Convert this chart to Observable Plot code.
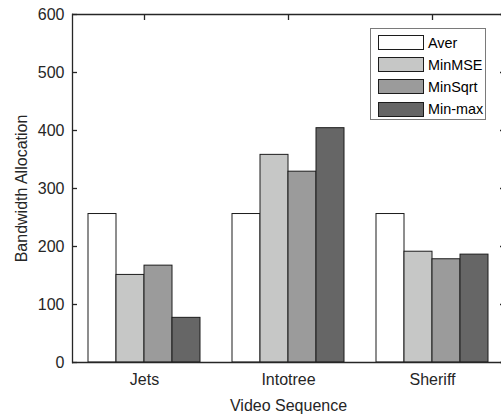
<!DOCTYPE html>
<html><head><meta charset="utf-8">
<script src="https://cdn.jsdelivr.net/npm/d3@7"></script>
<script src="https://cdn.jsdelivr.net/npm/@observablehq/plot@0.6"></script>
<style>
html,body{margin:0;padding:0;background:#fff;overflow:hidden;}
#wrap{position:relative;width:501px;height:417px;overflow:hidden;}
#wrap svg{overflow:visible;}
#legend{position:absolute;left:370px;top:28px;width:116px;height:92px;border:1px solid #7a7a7a;background:#fff;box-sizing:border-box;font-family:"Liberation Sans",Arial,Helvetica,sans-serif;font-size:14.4px;color:#000;}
.row{position:absolute;left:7px;height:15px;display:flex;align-items:center;white-space:nowrap;}
.sw{width:46px;height:15px;box-sizing:border-box;border:1px solid #1c1c1c;margin-right:4px;flex:none;}
</style></head><body><div id="wrap"></div>
<script>
const videos = ["Jets", "Intotree", "Sheriff"];
const methods = ["Aver", "MinMSE", "MinSqrt", "Min-max"];
const aver = [256, 256, 256];
const minMSE = [151, 358, 191];
const minSqrt = [167, 329, 178];
const minMax = [77, 404, 186];
const colors = ["#ffffff", "#c6c7c6", "#9b9b9b", "#666666"];
const yTicks = [0, 100, 200, 300, 400, 500, 600];

const series = [aver, minMSE, minSqrt, minMax];
const data = videos.flatMap((v, i) => methods.map((m, j) => ({video: v, method: m, value: series[j][i]})));

const ink = "#262626";
const chart = Plot.plot({
  width: 501, height: 417,
  marginLeft: 72, marginRight: -3, marginTop: 14, marginBottom: 55,
  style: {fontSize: "16px", fontFamily: "'Liberation Sans', Arial, Helvetica, sans-serif", color: ink, background: "white", overflow: "visible"},
  fx: {domain: videos, paddingInner: 0, paddingOuter: 0},
  x: {domain: methods, paddingInner: 0, paddingOuter: 0.5, axis: null},
  y: {domain: [0, 600]},
  color: {domain: methods, range: colors},
  marks: [
    Plot.barY(data, {fx: "video", x: "method", y: "value", fill: "method", stroke: "#1c1c1c", strokeWidth: 1}),
    Plot.ruleY([0, 600], {stroke: ink, strokeWidth: 1.3}),
    Plot.frame({anchor: "left", facetAnchor: "left", stroke: ink, strokeWidth: 1.3}),
    Plot.axisY(yTicks, {anchor: "left", tickSize: 0, tickPadding: 8, label: "Bandwidth Allocation", labelAnchor: "center", labelOffset: 57, labelArrow: "none"}),
    Plot.axisY(yTicks, {anchor: "left", tickSize: 5, dx: 5, tickFormat: () => "", label: null, stroke: ink, strokeWidth: 1.3}),
    Plot.axisY(yTicks, {anchor: "right", tickSize: 5, dx: -5, tickFormat: () => "", label: null, stroke: ink, strokeWidth: 1.3}),
    Plot.axisFx({anchor: "bottom", tickSize: 0, tickPadding: 11, label: "Video Sequence", labelAnchor: "center", labelOffset: 48}),
    Plot.axisFx({anchor: "top", tickSize: 5, dy: 5, tickFormat: () => "", label: null, stroke: ink, strokeWidth: 1.3})
  ]
});
const wrap = document.getElementById("wrap");
wrap.appendChild(chart);

const legend = document.createElement("div");
legend.id = "legend";
methods.forEach((m, j) => {
  const row = document.createElement("div");
  row.className = "row";
  row.style.top = (6 + j * 22.2) + "px";
  const sw = document.createElement("div");
  sw.className = "sw";
  sw.style.background = colors[j];
  const t = document.createElement("span");
  t.textContent = m;
  row.appendChild(sw); row.appendChild(t);
  legend.appendChild(row);
});
wrap.appendChild(legend);
</script></body></html>
